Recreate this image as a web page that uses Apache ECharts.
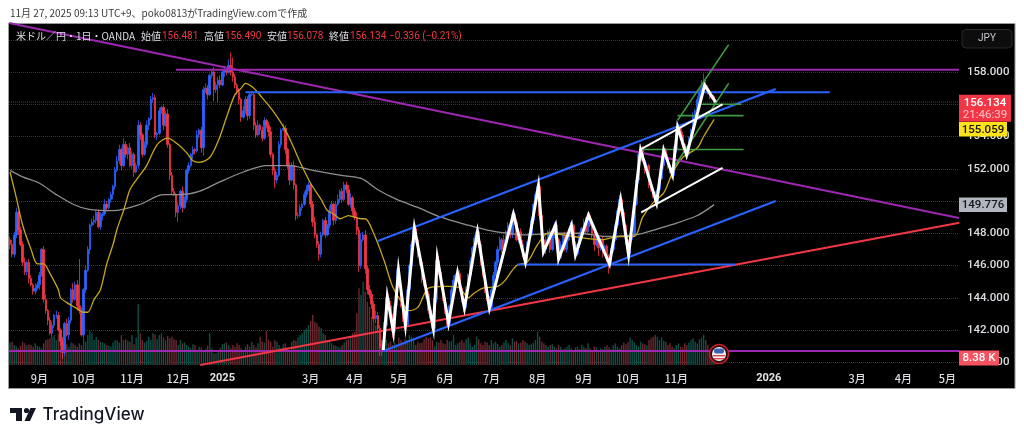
<!DOCTYPE html>
<html><head><meta charset="utf-8">
<style>html,body{margin:0;padding:0;background:#fff}#c{width:1024px;height:441px}</style>
<script src="https://cdn.jsdelivr.net/npm/echarts@6/dist/echarts.min.js"></script>
</head><body><div id="c"></div>
<script>
const closes=[
147.3,146.7,147.9,149.3,148.2,147.3,146.2,145.6,146.2,145.2,144.8,144.4,144.6,144.8,145.4,147.0,143.9,143.2,142.6,141.8,
142.3,142.9,142.9,142.0,141.3,140.6,142.4,141.7,142.6,144.5,143.9,144.8,143.5,143.2,141.7,144.5,145.7,147.0,148.5,148.7,
148.8,149.3,148.4,149.1,149.2,149.8,149.6,150.1,150.4,150.9,151.9,152.5,153.2,152.2,153.5,152.9,153.3,152.2,152.9,151.8,
152.2,154.7,154.1,152.9,153.5,154.7,155.1,156.3,156.4,154.1,154.2,155.6,155.8,154.7,155.4,153.5,151.6,150.6,150.4,149.3,
149.7,150.6,149.6,150.1,151.9,152.2,152.9,153.2,153.1,154.1,154.4,153.3,156.9,157.0,156.6,157.8,158.0,156.9,157.2,157.5,
157.2,158.0,158.1,158.0,158.4,158.0,157.7,157.2,156.8,156.3,155.2,155.6,156.3,155.3,156.6,156.6,154.7,154.1,154.7,154.4,
153.9,155.0,154.7,154.3,152.9,151.9,151.3,151.6,153.5,154.4,154.5,153.2,152.2,151.3,152.2,151.0,149.1,149.1,149.6,149.8,
150.4,150.7,151.0,149.8,148.7,147.9,147.3,146.7,147.9,148.8,147.9,148.5,149.4,149.8,148.8,149.8,150.1,150.6,150.1,151.0,
150.7,149.8,150.2,149.4,149.0,148.2,146.0,147.6,147.9,145.8,144.5,144.2,143.6,142.7,142.9,142.1,140.9,141.1,142.3,144.0,
143.5,142.9,141.9,143.5,145.7,144.8,143.5,142.7,142.3,144.5,146.0,147.3,148.3,147.6,146.6,146.2,145.1,144.8,144.2,143.2,
142.7,142.1,143.9,146.3,145.6,144.8,144.0,143.2,142.4,143.5,144.5,145.1,145.4,145.5,144.6,143.9,143.4,144.5,145.4,146.3,
147.1,147.7,148.1,147.3,146.2,145.4,144.5,143.9,143.4,144.5,145.4,146.2,147.0,147.6,147.0,147.6,148.1,148.5,147.9,149.2,
148.7,147.6,148.1,147.3,146.7,146.3,147.3,147.9,148.8,149.8,150.4,150.9,149.1,147.6,147.0,147.6,148.1,147.0,147.9,148.5,
147.6,146.5,147.3,147.9,147.0,147.6,148.1,148.5,147.3,146.7,147.3,147.9,148.3,148.7,148.1,149.1,148.5,147.9,147.3,147.7,
147.1,147.6,146.9,147.2,146.5,146.1,147.0,147.6,148.5,149.4,150.1,149.3,148.5,147.6,146.7,147.6,147.9,149.8,151.3,152.9,
153.2,152.5,151.9,152.2,151.0,150.7,150.4,149.9,150.7,151.4,152.2,153.2,152.7,152.2,151.8,151.6,153.2,154.4,154.5,154.1,
153.5,153.2,152.9,153.8,154.4,155.3,155.6,156.3,156.8,157.0,157.2,157.0,156.8,156.4,156.481,156.134];
const upperWicks=[
.2,.3,.2,.3,.1,.2,.2,.3,.1,.2,.2,.1,.3,.2,.2,.1,.2,.3,.1,.2,
.2,.1,.3,.2,.1,.2,.1,.3,.2,.1,.4,.2,.3,2.9,.2,.1,.3,.2,.1,.2,
.3,.1,.2,.2,.1,.3,.2,.1,.2,.1,.2,.3,.3,.1,.4,.2,.1,.3,.2,.1,
.2,.3,.2,.1,.2,.3,.1,.2,.3,.2,.1,.2,.1,.2,.2,.3,.1,.2,.2,.1,
.2,.1,.3,.2,.1,.2,.1,.2,.1,.3,.1,.2,.2,.3,.2,.1,.2,.3,.2,.2,
.3,.2,.2,.1,.4,.8,.9,.2,.1,.2,.1,.3,.2,.2,.1,.2,.1,.2,.3,.1,
.2,.2,.1,.2,.3,.1,.2,.2,.2,.1,.3,.2,.1,.2,.2,.3,.1,.2,.2,.1,
.2,.3,.2,.1,.2,.3,.1,.2,.2,.1,.2,.1,.3,.2,.1,.2,.3,.1,.2,.2,
.2,.3,.3,.1,.2,.3,.2,.4,.2,.3,.2,.3,.2,.2,.3,.2,.2,.3,.2,.1,
.2,.3,.1,.2,.1,.2,.3,.2,.1,.2,.1,.2,.3,.2,.1,.2,.2,.1,.3,.2,
.1,.2,.2,.1,.3,.2,.1,.2,.2,.1,.2,.3,.1,.2,.2,.1,.2,.2,.1,.2,
.1,.2,.2,.1,.2,.1,.2,.3,.2,.1,.2,.1,.2,.2,.1,.3,.1,.2,.1,.2,
.1,.2,.1,.2,.3,.1,.2,.1,.2,.1,.2,.2,.1,.2,.1,.2,.1,.2,.1,.2,
.2,.1,.2,.1,.2,.1,.2,.2,.1,.2,.1,.2,.1,.2,.3,.1,.2,.1,.2,.1,
.2,.1,.2,.1,.1,.2,.1,.2,.1,.2,.3,.1,.2,.1,.2,.1,.2,.1,.2,.1,
.3,.2,.1,.2,.1,.2,.1,.2,.1,.2,.1,.3,.1,.2,.1,.1,.2,.2,.3,.1,
.2,.1,.1,.2,.1,.2,.1,.2,.2,.5,.7,.3,.2,.1,.009,.1];
const lowerWicks=[
.3,.2,.2,.2,.3,.1,.2,.2,.2,.3,.1,.2,.2,.1,.3,.1,.2,.2,.3,.1,
.3,.2,.2,.1,.3,.4,.2,.1,.3,.2,.2,.1,.3,.2,.1,.2,.2,.1,.3,.1,
.2,.2,.1,.2,.3,.1,.2,.1,.2,.3,.2,.1,.2,.3,.1,.2,.3,.1,.2,.3,
.1,.2,.3,.2,.1,.2,.3,.1,.2,.2,.3,.1,.2,.3,.1,.2,.3,.2,.1,.3,
.6,.2,.3,.1,.2,.2,.1,.3,.2,.1,.2,.3,.5,.2,.3,.1,.2,.7,.2,1.1,
.2,.1,.3,.2,.1,.2,.3,.2,.2,.3,.3,.1,.2,.3,.2,.1,.3,.2,.1,.3,
.2,.1,.2,.3,.2,.3,.5,.2,.1,.2,.1,.3,.2,.3,.1,.3,.3,.2,.1,.2,
.1,.2,.1,.2,.3,.2,.2,.4,.2,.1,.2,.1,.2,.1,.3,.2,.1,.2,.2,.1,
.2,.1,.2,.3,.2,.3,.4,.2,.1,.3,.3,.2,.3,.2,.3,.2,.5,.5,.2,.1,
.2,.2,.4,.1,.2,.2,.1,.2,.3,.1,.2,.1,.2,.2,.1,.2,.2,.1,.2,.2,
.2,.3,.1,.2,.2,.1,.2,.2,.2,.1,.2,.1,.2,.1,.2,.2,.3,.1,.2,.1,
.2,.1,.1,.2,.2,.1,.2,.1,.3,.1,.2,.1,.2,.1,.2,.1,.2,.1,.2,.2,
.2,.1,.2,.1,.2,.3,.1,.2,.1,.2,.1,.1,.2,.2,.1,.3,.1,.2,.1,.2,
.4,.2,.1,.2,.1,.2,.1,.2,.3,.2,.1,.2,.1,.2,.1,.2,.1,.2,.4,.1,
.5,.2,.4,.1,.3,.6,.1,.2,.1,.2,.1,.2,.2,.3,.2,.1,.2,.1,.1,.2,
.2,.1,.2,.1,.2,.1,.2,.2,.1,.2,.1,.2,.1,.2,.1,.2,.1,.2,.3,.2,
.2,.1,.2,.1,.2,.1,.2,.1,.2,.1,.1,.1,.2,.1,.1,.056];
const volumes=[
27,28,24,22,20,23,28,26,24,25,24,22,26,23,22,20,26,30,31,32,
33,36,30,38,36,34,26,25,22,27,26,24,22,26,24,32,28,36,41,38,
30,34,30,28,27,26,24,23,22,27,30,29,27,36,30,31,29,28,36,25,
33,73,38,30,27,29,34,30,38,37,31,36,38,33,30,35,32,34,31,30,
24,30,26,27,24,22,20,25,24,18,22,21,17,19,23,38,20,14,14,16,
20,25,26,27,24,20,24,22,26,24,20,18,22,25,22,28,24,21,26,34,
28,27,41,30,28,22,30,28,24,20,25,26,21,18,28,30,29,33,36,38,
42,44,48,53,60,52,50,46,44,38,36,30,30,26,24,23,22,21,24,27,
30,31,34,38,40,62,92,84,100,88,76,70,58,52,48,40,34,30,28,30,
26,28,24,27,25,33,30,28,31,30,36,34,32,24,28,26,27,31,34,32,
33,30,22,28,27,30,26,25,30,28,29,36,24,26,28,30,27,31,33,26,
22,24,34,31,26,24,28,27,24,30,26,28,25,22,24,27,30,26,24,32,
28,29,26,27,30,28,26,24,25,27,30,40,34,28,26,24,22,24,25,22,
20,24,22,19,20,22,24,20,18,21,22,19,24,22,20,26,20,18,22,21,
18,20,19,22,24,21,19,24,26,22,20,24,27,25,28,33,30,27,24,22,
28,26,25,24,30,32,34,36,34,30,33,29,28,24,26,22,20,24,26,22,
21,26,24,27,30,32,28,26,31,33,36,30,24,16,12,8.38];

const slotCount=452;
const tickSlots=[14,35,58,80,101,143,164,185,207,229,251,273,294,317,361,403,425,446];
const tickNames=['9月','10月','11月','12月','2025','3月','4月','5月','6月','7月','8月','9月','10月','11月','2026','3月','4月','5月'];
const priceTicksLow=140, priceTop=160.98, priceStep=2;
const hiddenPriceLabels=[150,156,160];

const fastMaIdx=[0,3,6,10,13,16,19,23,24,27,31,35,37,40,43,46,49,51,54,57,60,65,70,75,80,84,87,90,95,99,103,107,110,112,116,120,125,131,135,138,143,148,151,154,157,161,167,169,173,178,182,187,190,194,197,199,206,210,214,218,221,225,232,235,241,246,251,256,268,281,290,297,301,306,311,315,320,327,330,335];
const fastMaVal=[151.8,150.2,148.5,147.0,146.1,146.1,145.5,144.5,144.0,143.7,143.4,143.1,143.1,143.9,144.5,146.1,147.3,148.3,149.4,150.7,151.3,152.2,153.5,153.9,153.5,153.0,152.5,152.4,152.7,153.7,155.2,156.6,157.0,157.3,157.0,156.4,155.6,154.4,153.3,152.4,151.1,150.1,149.4,149.2,148.9,149.1,148.9,148.9,148.0,146.3,144.7,143.6,143.2,143.4,144.2,144.6,144.7,144.7,144.6,144.0,144.3,144.6,144.7,145.0,146.0,146.2,147.3,148.0,147.8,147.6,147.8,147.8,149.0,149.9,150.5,151.7,152.7,153.3,154.0,155.059];
const slowMaIdx=[0,6,14,22,30,37,49,62,73,81,90,100,111,122,133,144,157,167,175,184,194,205,218,227,237,246,259,271,284,297,301,314,327,335];
const slowMaVal=[151.9,151.5,151.1,150.4,149.8,149.5,149.4,149.8,150.4,150.4,150.6,151.2,151.8,152.2,152.2,151.9,151.6,151.4,150.7,150.1,149.6,149.0,148.5,148.2,148.0,147.9,148.0,148.0,147.8,147.9,148.0,148.5,149.1,149.776];
const zigzagIdx=[177.6,179.5,182.4,184.8,188.1,192.4,201.4,203.3,208.6,212.9,216.2,222.4,228.1,239.5,245.2,251.4,253.8,259.5,261,267.1,269,275.2,285.2,290.5,294.3,300,307.6,311,315.2,317.6,321.9,330.5,335.7];
const zigzagVal=[140.76,144.05,141.88,145.72,142.31,148.33,142.12,146.47,142.43,145.53,143.36,148.08,143.36,149.19,146.22,150.93,146.84,148.51,146.40,148.51,146.65,149.13,146.09,150.06,146.65,153.16,149.88,153.16,151.61,154.59,152.85,157.19,156.134];

// each drawn trend line: start slot, start price, end slot, end price
const purpleLines=[[-0.5,161.04,451.5,148.95],[79,158.15,451.5,158.15],[-0.5,140.7,451.5,140.7]];
const blueLines=[[112,156.74,390,156.74],[175,147.52,364.3,156.95],[177.6,140.70,364.3,150.0],[241.4,146.06,345.2,146.06]];
const redLines=[[90.5,139.83,451.7,148.65]];
const greenLines=[[317.6,155.0,341.9,159.7],[315.4,152.0,341.9,157.3],[300,153.2,349,153.2],[317.6,155.3,349,155.3],[329,156.0,348,156.0]];
const whiteLines=[[300,153.2,339,156.0],[300.3,149.3,339,152.05]];
const currentPrice=156.134, countdown='21:46:39', fastMaLast=155.059, slowMaLast=149.776, volumeLast=8.38;

const candleData=closes.map((c,i)=>{
  const o=i?closes[i-1]:c+0.3;
  return [o,c,Math.min(o,c)-lowerWicks[i],Math.max(o,c)+upperWicks[i]];
});
const cats=Array.from({length:slotCount},(_,i)=>String(i));
const volData=volumes.map((v,i)=>({value:v,itemStyle:{color:(i?closes[i]>=closes[i-1]:true)?'#0e5149':'#6e2a30'}}));
const zip=(a,b)=>a.map((x,i)=>[x,b[i]]);
const lineSeries=(rows,color,width,z)=>rows.map(r=>({type:'line',xAxisIndex:1,yAxisIndex:0,data:[[r[0],r[1]],[r[2],r[3]]],
  symbol:'none',clip:false,silent:true,z:z,lineStyle:{color:color,width:width}}));
const font="Roboto,'Noto Sans CJK JP',sans-serif";
const cjk="'Noto Sans CJK JP',sans-serif";

const chart=echarts.init(document.getElementById('c'),null,{renderer:'canvas'});
chart.setOption({
  animation:false,backgroundColor:'transparent',
  grid:[{left:9,width:950,top:24,height:338.25,containLabel:false},{left:9,width:950,top:245,height:120}],
  xAxis:[
    {type:'category',gridIndex:0,data:cats,boundaryGap:true,axisLine:{show:false},axisTick:{show:false},splitLine:{show:false},
     axisLabel:{interval:i=>tickSlots.includes(i),hideOverlap:false,margin:11,color:'#dcdee3',fontSize:11,fontWeight:500,fontFamily:cjk,
       formatter:(v)=>{const n=tickNames[tickSlots.indexOf(+v)];return /^20/.test(n)?'{b|'+n+'}':n;},
       rich:{b:{fontWeight:'bold',fontSize:11,color:'#e4e6ea',fontFamily:font}}}},
    {type:'value',gridIndex:0,min:-0.5,max:slotCount-0.5,show:false,splitLine:{show:false}},
    {type:'category',gridIndex:1,data:cats,show:false}
  ],
  yAxis:[
    {type:'value',gridIndex:0,position:'right',min:priceTicksLow,max:priceTop,interval:priceStep,
     axisLine:{show:false},axisTick:{show:false},
     splitLine:{show:true,showMaxLine:false,lineStyle:{color:'#363636',type:'dotted',width:1}},
     axisLabel:{showMaxLabel:false,showMinLabel:true,margin:8,color:'#dcdee3',fontSize:11.5,fontFamily:font,fontWeight:500,
       formatter:v=>hiddenPriceLabels.includes(Math.round(v))?'':v.toFixed(3)}},
    {type:'value',gridIndex:1,min:0,max:144,show:false,splitLine:{show:false}}
  ],
  series:[
    {type:'bar',xAxisIndex:2,yAxisIndex:1,data:volData,barWidth:'65%',silent:true,z:1},
    {type:'candlestick',xAxisIndex:0,yAxisIndex:0,data:candleData,barWidth:2,silent:true,z:2,
     itemStyle:{color:'#2962ff',color0:'#f23645',borderColor:'#2962ff',borderColor0:'#f23645',borderWidth:0.8}},
    {type:'line',xAxisIndex:1,yAxisIndex:0,data:[[-0.5,currentPrice],[slotCount-0.5,currentPrice]],symbol:'none',silent:true,z:2,
     lineStyle:{color:'#8c2029',width:1,type:'dotted'}},
    {type:'line',xAxisIndex:1,yAxisIndex:0,data:zip(slowMaIdx,slowMaVal),symbol:'none',smooth:0.3,silent:true,z:3,lineStyle:{color:'#8f8f8f',width:1.3}},
    {type:'line',xAxisIndex:1,yAxisIndex:0,data:zip(fastMaIdx,fastMaVal),symbol:'none',smooth:0.3,silent:true,z:3,lineStyle:{color:'#c4a71f',width:1.3}},
    ...lineSeries(purpleLines,'#9c27b0',2,4),
    ...lineSeries(redLines,'#f23645',2,4),
    ...lineSeries(blueLines,'#2962ff',2,4),
    ...lineSeries(greenLines,'#3f9c42',1.6,4),
    ...lineSeries(whiteLines,'#ffffff',2,5),
    {type:'line',xAxisIndex:1,yAxisIndex:0,data:zip(zigzagIdx,zigzagVal),symbol:'none',silent:true,z:6,lineStyle:{color:'#ffffff',width:3,join:'miter'}}
  ]
});

const py=p=>chart.convertToPixel({yAxisIndex:0},p);
const vy=v=>chart.convertToPixel({yAxisIndex:1},v);
const txt=(x,y,t,color,size,opt)=>Object.assign({type:'text',silent:true,z:120,x:x,y:y,style:Object.assign({text:t,fill:color,fontSize:size,fontFamily:cjk,verticalAlign:'middle',align:'left'},opt||{})});
const tag=(x,w,cy,h,fill,label,color)=>[
  {type:'rect',silent:true,z:110,shape:{x:x,y:cy-h/2,width:w,height:h},style:{fill:fill}},
  txt(x+w/2,cy+0.5,label,color,11.5,{align:'center',fontFamily:font,fontWeight:500})];
const legendRed='#f23645',legendGrey='#dcdee3';
const priceTagTop=py(currentPrice)-7.5;
const els=[
  {type:'rect',silent:true,z:-50,shape:{x:8.5,y:23.5,width:1006.5,height:365},style:{fill:'#000000',stroke:'#9a9a9a',lineWidth:1}},
  txt(10,13,'11月 27, 2025 09:13 UTC+9、poko0813がTradingView.comで作成','#3c3c3c',10),
  txt(16,36,'米ドル／円・1日・OANDA',legendGrey,10),
  txt(141,36,'始値',legendGrey,10),txt(162,36,'156.481',legendRed,10,{fontFamily:font}),
  txt(204,36,'高値',legendGrey,10),txt(225,36,'156.490',legendRed,10,{fontFamily:font}),
  txt(267,36,'安値',legendGrey,10),txt(287,36,'156.078',legendRed,10,{fontFamily:font}),
  txt(329,36,'終値',legendGrey,10),txt(350,36,'156.134',legendRed,10,{fontFamily:font}),
  txt(389,36,'−0.336 (−0.21%)',legendRed,10,{fontFamily:font}),
  {type:'rect',silent:true,z:110,shape:{x:962,y:29.5,width:50,height:18.5,r:4},style:{fill:'#0d0d0d',stroke:'#2b2b2b',lineWidth:1}},
  txt(987,38.5,'JPY','#c4c6cc',10,{align:'center',fontFamily:font}),
  {type:'rect',silent:true,z:110,shape:{x:959,y:priceTagTop,width:52,height:27},style:{fill:'#f23645'}},
  txt(985,priceTagTop+8,currentPrice.toFixed(3),'#ffffff',11.5,{align:'center',fontFamily:font,fontWeight:500}),
  txt(985,priceTagTop+20,countdown,'#ffc2c7',11.5,{align:'center',fontFamily:font}),
  ...tag(959,48,priceTagTop+34.5,14.5,'#ffe31a',fastMaLast.toFixed(3),'#111111'),
  ...tag(959,48,py(slowMaLast),14.5,'#b2b5be',slowMaLast.toFixed(3),'#131722'),
  ...tag(959,40,vy(volumeLast),15,'#f7525f','8.38 K','#ffffff'),
  // event flag
  {type:'circle',silent:true,z:100,shape:{cx:719,cy:354,r:9.5},style:{fill:'#2a0a0d',stroke:'#c8202c',lineWidth:1.5}},
  {type:'circle',silent:true,z:101,shape:{cx:719,cy:354,r:7},style:{fill:'#f4f4f4'}},
  {type:'rect',silent:true,z:102,shape:{x:713,y:355,width:12,height:1.4},style:{fill:'#d94452'}},
  {type:'rect',silent:true,z:102,shape:{x:713.5,y:358,width:11,height:1.4},style:{fill:'#d94452'}},
  {type:'rect',silent:true,z:102,shape:{x:714,y:348.5,width:10,height:5,r:2},style:{fill:'#3f5fb0'}},
  // TradingView wordmark
  {type:'polygon',silent:true,z:100,shape:{points:[[10,408],[22,408],[22,421],[16,421],[16,413],[10,413]]},style:{fill:'#131722'}},
  {type:'circle',silent:true,z:100,shape:{cx:26.5,cy:410.5,r:2.6},style:{fill:'#131722'}},
  {type:'polygon',silent:true,z:100,shape:{points:[[30.5,408],[36,408],[30,421],[24.5,421]]},style:{fill:'#131722'}},
  txt(42.5,415,'TradingView','#131722',17,{fontFamily:"Inter,Roboto,sans-serif",fontWeight:500})
];
chart.setOption({graphic:{elements:els}});
</script></body></html>
